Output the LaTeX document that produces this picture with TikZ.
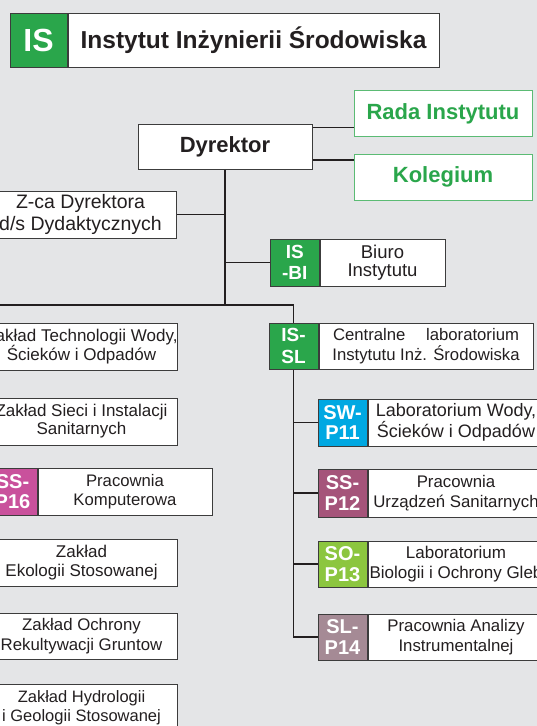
\documentclass[tikz,border=0pt]{standalone}
\usepackage{fontspec}
\setmainfont{Liberation Sans}
\usetikzlibrary{positioning}
\definecolor{pagegrey}{HTML}{E4E5E7}
\definecolor{isgreen}{HTML}{2AA64B}
\definecolor{councilgreen}{HTML}{5BBB74}
\definecolor{swblue}{HTML}{00A8E2}
\definecolor{ssmagenta}{HTML}{C9519C}
\definecolor{ssmauve}{HTML}{A5547A}
\definecolor{solime}{HTML}{8CC63F}
\definecolor{slmauve}{HTML}{A58A95}
\definecolor{edgegrey}{HTML}{3C3C3C}
\definecolor{inkgrey}{HTML}{231F20}

\begin{document}
\begin{tikzpicture}[x=1pt, y=-1pt, node distance=0pt]
% Define styles
\tikzstyle{unit} = [rectangle, draw=edgegrey, fill=white, line width=1pt, inner sep=0pt, align=center, text=inkgrey, font=\fontsize{17}{19.5}\selectfont]
\tikzstyle{dept} = [unit, anchor=east, minimum width=192pt, minimum height=47pt]
\tikzstyle{lab} = [unit, right=0pt of #1, minimum width=176pt, minimum height=47pt]
\tikzstyle{codetag} = [rectangle, draw=edgegrey, line width=1pt, inner sep=0pt, minimum width=49pt, minimum height=47pt, align=center, text=white, font=\bfseries\fontsize{20}{20.5}\selectfont]
\tikzstyle{council} = [rectangle, draw=councilgreen, fill=white, line width=1pt, minimum width=178pt, minimum height=46pt, text=isgreen, font=\bfseries\fontsize{22}{26}\selectfont]
\tikzstyle{link} = [line width=1.5pt, draw=inkgrey]

% Page
\fill[pagegrey] (0,0) rectangle (537,726);
\useasboundingbox (0,0) rectangle (537,726);
\clip (0,0) rectangle (537,726);

% Title
\node (iscode) [codetag, fill=isgreen, minimum width=57pt, minimum height=54pt, font=\bfseries\fontsize{32}{32}\selectfont] at (38.5,40) {IS};
\node (title) [unit, right=0pt of iscode, minimum width=371pt, minimum height=54pt, font=\bfseries\fontsize{24.5}{28}\selectfont] {Instytut Inżynierii Środowiska};

% Management
\node (dyr) [unit, minimum width=174pt, minimum height=45pt, font=\bfseries\fontsize{22}{26}\selectfont] at (225,146.5) {Dyrektor};
\node (rada) [council] at (443,113.5) {Rada Instytutu};
\node (kolegium) [council] at (443,177) {Kolegium};
\node (zca) [dept, font=\fontsize{19.5}{21.3}\selectfont] at (177,214.5) {Z-ca Dyrektora\\d/s Dydaktycznych};
\node (bitag) [codetag, fill=isgreen, minimum width=48.5pt, font=\bfseries\fontsize{19}{20.5}\selectfont] at (294.75,262.5) {IS\\-BI};
\node (biuro) [unit, right=0pt of bitag, minimum width=125pt, minimum height=47pt, font=\fontsize{18.5}{17.5}\selectfont] {Biuro\\Instytutu};

% Departments
\node (ztw) [dept] at (178,346.5) {Zakład Technologii Wody,\\Ścieków i Odpadów};
\node (zsi) [dept, font=\fontsize{17}{18}\selectfont] at (178,421.5) {Zakład Sieci i Instalacji\\Sanitarnych};
\node (p16tag) [codetag, fill=ssmagenta] at (12.5,491.5) {SS-\\P16};
\node (p16) [unit, right=0pt of p16tag, minimum width=174pt, minimum height=47pt, font=\fontsize{16.7}{19}\selectfont] {Pracownia\\Komputerowa};
\node (zes) [dept] at (178,562.5) {Zakład\\Ekologii Stosowanej};
\node (zor) [dept, minimum height=46pt, font=\fontsize{16.8}{19.5}\selectfont] at (178,636) {Zakład Ochrony\\Rekultywacji Gruntow};
\node (zhg) [dept, font=\fontsize{16.5}{19.5}\selectfont] at (178,707.5) {Zakład Hydrologii\\i Geologii Stosowanej};

% Central laboratory
\node (sltag) [codetag, fill=isgreen, minimum height=46pt, font=\bfseries\fontsize{19}{21.5}\selectfont] at (293.5,346) {IS-\\SL};
\node (sl) [unit, right=0pt of sltag, minimum width=214pt, minimum height=46pt, font=\fontsize{16.7}{19.5}\selectfont] {\makebox[186pt][s]{Centralne laboratorium}\\Instytutu Inż. Środowiska};
\node (p11tag) [codetag, fill=swblue] at (342.5,422.5) {SW-\\P11};
\node (p11) [lab=p11tag, font=\fontsize{18}{19.5}\selectfont] {Laboratorium Wody,\\Ścieków i Odpadów};
\node (p12tag) [codetag, fill=ssmauve, minimum height=48pt] at (342.5,493) {SS-\\P12};
\node (p12) [lab=p12tag, minimum height=48pt, font=\fontsize{16.8}{19.5}\selectfont] {Pracownia\\Urządzeń Sanitarnych};
\node (p13tag) [codetag, fill=solime, minimum height=46pt] at (342.5,564) {SO-\\P13};
\node (p13) [lab=p13tag, minimum height=46pt] {Laboratorium\\Biologii i Ochrony Gleb};
\node (p14tag) [codetag, fill=slmauve, minimum height=46pt] at (342.5,637) {SL-\\P14};
\node (p14) [lab=p14tag, minimum height=46pt, font=\fontsize{16.8}{19.5}\selectfont] {Pracownia Analizy\\Instrumentalnej};

% Connectors
\coordinate (radain) at ([yshift=-14pt]rada.west);
\coordinate (kolin) at ([yshift=17pt]kolegium.west);
\coordinate (busline) at (0,305);
\coordinate (leftbus) at (-30,305);
\draw[link] (radain) -- (radain -| dyr.east);
\draw[link] (kolin) -- (kolin -| dyr.east);
\draw[link] (dyr.south) -- (dyr.south |- busline);
\draw[link] (zca.east) -- (zca.east -| dyr.south);
\draw[link] (bitag.west) -- (bitag.west -| dyr.south);
\draw[link] (leftbus) -| (sltag.north);
\draw[link] (sltag.south) |- (p14tag.west);
\foreach \lab in {p11,p12,p13}
  \draw[link] (\lab tag.west) -- (\lab tag.west -| sltag.south);
\end{tikzpicture}
\end{document}
